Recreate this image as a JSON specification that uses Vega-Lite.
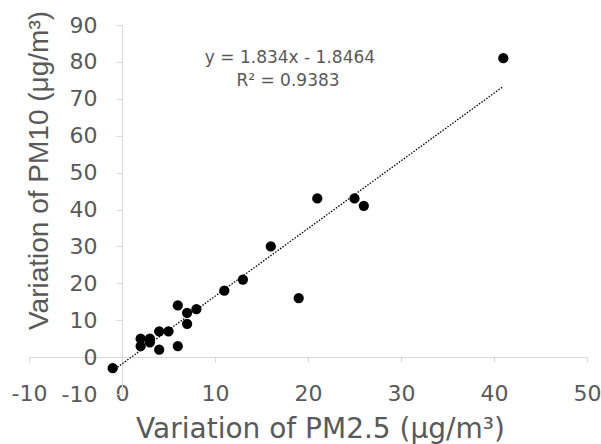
{
  "$schema": "https://vega.github.io/schema/vega-lite/v6.json",
  "width": 558,
  "height": 369,
  "autosize": "none",
  "padding": {"left": 29, "top": 25, "right": 14, "bottom": 50},
  "background": "white",
  "config": {"view": {"stroke": null}, "font": "DejaVu Sans"},
  "datasets": {
    "points": [
      {"x": -1, "y": -3}, {"x": 2, "y": 5}, {"x": 2, "y": 3}, {"x": 3, "y": 5}, {"x": 3, "y": 4},
      {"x": 4, "y": 7}, {"x": 4, "y": 2}, {"x": 5, "y": 7}, {"x": 6, "y": 14}, {"x": 6, "y": 3},
      {"x": 7, "y": 12}, {"x": 7, "y": 9}, {"x": 8, "y": 13}, {"x": 11, "y": 18}, {"x": 13, "y": 21},
      {"x": 16, "y": 30}, {"x": 19, "y": 16}, {"x": 21, "y": 43}, {"x": 25, "y": 43}, {"x": 26, "y": 41},
      {"x": 41, "y": 81}
    ],
    "trend": [{"x": -1, "y": -3.68}, {"x": 41, "y": 73.35}],
    "notes": [
      {"x": 18.06, "y": 79.6, "label": "y = 1.834x - 1.8464"},
      {"x": 17.85, "y": 73.4, "label": "R² = 0.9383"}
    ]
  },
  "encoding": {
    "x": {
      "field": "x", "type": "quantitative",
      "scale": {"domain": [-10, 50], "nice": false, "zero": false},
      "axis": {
        "title": "Variation of PM2.5 (μg/m³)",
        "values": [-10, 0, 10, 20, 30, 40, 50],
        "labelExpr": "datum.value + ''",
        "offset": -37, "grid": false,
        "domainColor": "#d9d9d9", "tickColor": "#d9d9d9", "tickSize": 5,
        "labelFont": "DejaVu Sans", "labelFontSize": 22, "labelColor": "#595959", "labelPadding": 21,
        "labelFlush": false, "labelOverlap": false,
        "titleFont": "DejaVu Sans", "titleFontSize": 28, "titleFontWeight": "normal", "titleColor": "#595959",
        "titleX": 291, "titleY": 80, "titleBaseline": "alphabetic", "titleAlign": "center"
      }
    },
    "y": {
      "field": "y", "type": "quantitative",
      "scale": {"domain": [-10, 90], "nice": false, "zero": false},
      "axis": {
        "title": "Variation of PM10 (μg/m³)",
        "values": [-10, 0, 10, 20, 30, 40, 50, 60, 70, 80, 90],
        "labelExpr": "datum.value + ''",
        "offset": -93, "grid": false,
        "domainColor": "#d9d9d9", "tickColor": "#d9d9d9", "tickSize": 6,
        "labelFont": "DejaVu Sans", "labelFontSize": 22, "labelColor": "#595959", "labelPadding": 19,
        "labelFlush": false, "labelOverlap": false,
        "titleFont": "Liberation Sans", "titleFontSize": 28, "titleFontWeight": "normal", "titleColor": "#595959",
        "titleAngle": -90, "titleX": -75, "titleY": 145, "titleBaseline": "alphabetic", "titleAlign": "center"
      }
    }
  },
  "layer": [
    {
      "data": {"name": "trend"},
      "mark": {"type": "line", "color": "#000000", "strokeDash": [1.5, 1.5], "strokeWidth": 1.3}
    },
    {
      "data": {"name": "points"},
      "mark": {"type": "circle", "color": "#000000", "opacity": 1, "size": 105}
    },
    {
      "data": {"name": "notes"},
      "mark": {"type": "text", "font": "DejaVu Sans", "fontSize": 17, "color": "#595959", "align": "center", "baseline": "alphabetic"},
      "encoding": {"text": {"field": "label"}}
    }
  ]
}
